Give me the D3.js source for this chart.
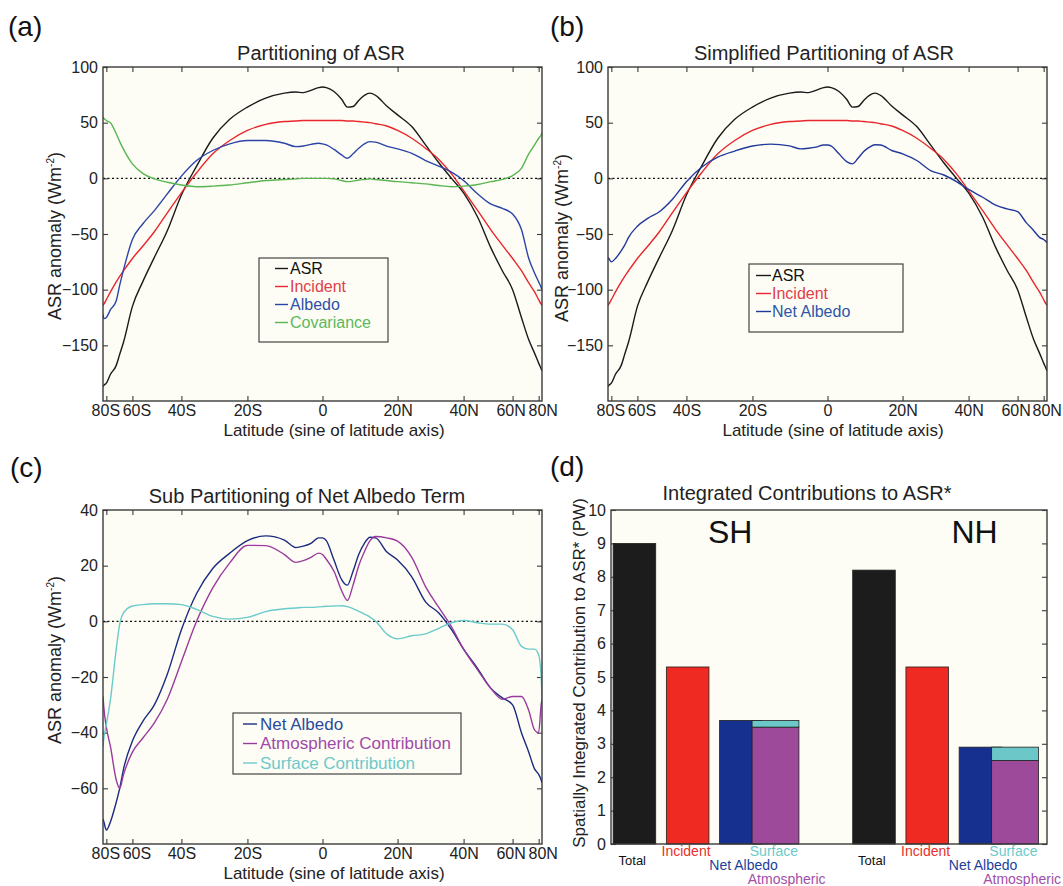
<!DOCTYPE html>
<html>
<head>
<meta charset="utf-8">
<script src="https://cdn.jsdelivr.net/npm/d3@7"></script>
<style>
  body { margin: 0; background: #fff; }
  svg { display: block; font-family: "Liberation Sans", Arial, sans-serif; }
</style>
</head>
<body>
<svg id="chart" width="1063" height="886"></svg>
<script>
// latitude grid (degrees) shared by every zonal-mean curve
const lat = [-90, -85, -80, -75, -70, -67.5, -65, -60, -55, -50,
  -45, -40, -35, -30, -25, -20, -15, -10, -7, -5,
  -3, -1, 0, 1, 3, 5, 6.5, 8, 9.5, 11,
  12.5, 14, 17, 20, 24, 28, 32, 36, 40, 45,
  50, 55, 60, 65, 70, 75, 80, 85, 90];

const asr = [-187, -186, -184, -176, -168, -158, -147, -115, -93, -71,
  -47, -15, 11, 36, 53, 64, 72, 76.5, 77.5, 77,
  79, 81.5, 82, 81.5, 78, 71, 64, 64.5, 70, 74.5,
  76.5, 74.5, 65, 57, 46.5, 30, 14, 0, -13, -35,
  -62, -83, -100, -125, -145, -157, -166, -171, -173];

const incident = [-114, -113, -109, -102, -93, -88, -83, -72, -61, -48,
  -31, -13, 5, 22, 34, 43, 48.5, 51, 51.5, 52,
  52, 52, 52, 52, 52, 52, 51.5, 51.5, 51, 50.5,
  50, 49, 47, 43, 36, 27, 17, 4, -11, -29,
  -46, -60, -72, -83, -94, -102, -109, -113, -114];

const albedo = [-122, -126, -125, -118, -110, -96, -82, -55, -41, -29,
  -14, 2, 16, 25, 31, 34, 34, 31.5, 28.5, 29,
  30.5, 31.5, 31, 30, 26, 21, 18, 22, 27, 31,
  33, 32.5, 29, 26.5, 22.5, 16, 11, 5.5, -2, -14,
  -23, -27, -32, -46, -72, -85, -93, -98, -100];

const covariance = [55, 54, 52, 50, 40, 33, 26, 13, 4.5, -0.5,
  -3.5, -6, -7.5, -7, -6, -4, -2, -1, -0.5, 0,
  0, 0, 0, 0, -0.5, -2, -3, -2.5, -1.5, -1,
  -0.5, -1, -2, -3, -4, -5, -6.5, -7.5, -7, -5.5,
  -3, -1, 2.5, 9, 22, 30, 36, 39, 41];

const netAlbedo = [-71, -72, -75, -72, -65, -60, -53, -43, -36, -30,
  -19, -3, 10, 19, 24.5, 29, 30.7, 29.2, 26.5, 27,
  28, 30, 30, 29, 22, 15, 13, 18, 24, 28,
  30.2, 30, 25, 22, 16, 7, 3, -3, -10, -17,
  -24, -27.5, -30, -40, -47, -53, -55, -57, -58];

const atmospheric = [-27, -31, -38, -45, -57, -60, -55, -47, -42, -36.5,
  -28, -14.5, 0, 12, 21, 27.3, 27.2, 24, 21.2, 21.8,
  23, 24.5, 24, 22.3, 18, 11, 7.5, 13, 20, 25,
  29, 30.5, 30, 28.8, 23, 12.5, 5, -2, -10, -17.5,
  -24, -28, -27, -27, -32, -39, -40, -30, -28];

const surface = [-45, -42, -37, -28, -10, -1, 3, 5.5, 6, 6.3,
  6.3, 6, 4.3, 1.8, 0.8, 1.4, 3.5, 4.5, 4.8, 5,
  5, 5.2, 5.3, 5.4, 5.5, 5.6, 5.3, 4.6, 3.6, 2.6,
  1.5, 0, -4.5, -6.3, -5.2, -4.5, -2.5, -0.5, 0.3, -0.5,
  -1, -1, -3, -9, -10, -10, -12, -20, -28];

const latTicks = [-80, -60, -40, -20, 0, 20, 40, 60, 80];
const latTickLabels = ["80S", "60S", "40S", "20S", "0", "20N", "40N", "60N", "80N"];

// panel (d): integrated contributions (PW)
const hemispheres = ["SH", "NH"];
const totalPW = [9.0, 8.2];
const incidentPW = [5.3, 5.3];
const netAlbedoPW = [3.7, 2.9];
const atmosphericPW = [3.5, 2.5];
const surfacePW = [0.2, 0.4];

const col = {
  asr: "#1a1a1a", incident: "#e8262b", albedo: "#2a44a8", cov: "#5ab552",
  net: "#22389c", netC: "#1c2a80", atm: "#9a3a9e", surf: "#6bcaca",
  barTotal: "#1c1c1c", barInc: "#ee2a22", barNet: "#163090", barAtm: "#9e4a9a", barSurf: "#6cc8c8"
};
const plotBg = "#fdfdf5";
const frameCol = "#3a3a3a";
const textCol = "#222";

const svg = d3.select("#chart");
const rad = d => Math.sin(d * Math.PI / 180);

function drawFrame(g, p, x, y, xAxis, yTicks) {
  g.append("rect")
    .attr("x", p.l).attr("y", p.t)
    .attr("width", p.r - p.l).attr("height", p.b - p.t)
    .attr("fill", plotBg);

  const yAx = d3.axisLeft(y).tickValues(yTicks).tickSizeInner(-5).tickSizeOuter(0).tickPadding(5);
  g.append("g").attr("transform", `translate(${p.l},0)`).call(yAx);
  g.append("g").attr("transform", `translate(${p.r},0)`)
    .call(d3.axisRight(y).tickValues(yTicks).tickSizeInner(-5).tickSizeOuter(0).tickFormat(""));
  if (xAxis) {
    g.append("g").attr("class", "xax").attr("transform", `translate(0,${p.b})`).call(xAxis);
    g.append("g").attr("transform", `translate(0,${p.t})`)
      .call(d3.axisTop(x).tickValues(latTicks.map(rad)).tickSizeInner(-5).tickSizeOuter(0).tickFormat(""));
  }
  g.selectAll(".domain").remove();
  g.selectAll(".tick line").attr("stroke", frameCol).attr("stroke-width", 1.1);
  g.selectAll(".tick text").attr("fill", textCol).style("font-size", "16px")
    .style("font-family", "'Liberation Sans', Arial, sans-serif");
}

function outline(g, p) {
  g.append("rect")
    .attr("x", p.l).attr("y", p.t)
    .attr("width", p.r - p.l).attr("height", p.b - p.t)
    .attr("fill", "none").attr("stroke", frameCol).attr("stroke-width", 1.4);
}

function yLabel(g, cx, cy, size) {
  const t = g.append("text")
    .attr("transform", `translate(${cx},${cy}) rotate(-90)`)
    .attr("text-anchor", "middle").attr("dy", "0.35em")
    .attr("fill", textCol).style("font-size", size + "px");
  t.append("tspan").text("ASR anomaly (Wm");
  t.append("tspan").attr("dy", -7).style("font-size", "10px").text("-2");
  t.append("tspan").attr("dy", 7).text(")");
}

function linePanel(p, cfg) {
  const g = svg.append("g");
  const x = d3.scaleLinear().domain([-1, 1]).range([p.l, p.r]);
  const y = d3.scaleLinear().domain(cfg.yDomain).range([p.b, p.t]);

  const xAxis = d3.axisBottom(x)
    .tickValues(latTicks.map(rad))
    .tickFormat((d, i) => latTickLabels[i])
    .tickSizeInner(-5).tickSizeOuter(0).tickPadding(4);
  drawFrame(g, p, x, y, xAxis, cfg.yTicks);
  // crowded polar labels sit a little apart, as in the original
  g.selectAll(".xax .tick text").attr("dx", (d, i) => cfg.labelShift[i] || 0);

  const clipId = "clip" + cfg.id;
  svg.append("clipPath").attr("id", clipId).append("rect")
    .attr("x", p.l).attr("y", p.t).attr("width", p.r - p.l).attr("height", p.b - p.t);

  // dotted zero line
  g.append("line")
    .attr("x1", p.l).attr("x2", p.r).attr("y1", y(0)).attr("y2", y(0))
    .attr("stroke", "#111").attr("stroke-width", 1.3).attr("stroke-dasharray", "2,2.5");

  const line = d3.line()
    .x((d, i) => x(rad(lat[i])))
    .y(d => y(d))
    .curve(d3.curveMonotoneX);

  cfg.series.forEach(s => {
    g.append("path")
      .datum(s.values)
      .attr("clip-path", `url(#${clipId})`)
      .attr("d", line)
      .attr("fill", "none").attr("stroke", s.color).attr("stroke-width", 1.4);
  });

  outline(g, p);

  // legend
  const L = cfg.legend;
  g.append("rect")
    .attr("x", L.x0).attr("y", L.y0).attr("width", L.x1 - L.x0).attr("height", L.y1 - L.y0)
    .attr("fill", plotBg).attr("stroke", "#444").attr("stroke-width", 1.2);
  cfg.series.forEach((s, i) => {
    const yy = L.rows[i];
    g.append("line").attr("x1", L.lx0).attr("x2", L.lx1).attr("y1", yy).attr("y2", yy)
      .attr("stroke", s.color).attr("stroke-width", 1.4);
    g.append("text").attr("x", L.tx).attr("y", yy).attr("dy", "0.35em")
      .attr("fill", s.text).style("font-size", L.size + "px").text(s.name);
  });

  // title, x label, y label, panel tag
  g.append("text").attr("x", cfg.titleX).attr("y", p.t - 7).attr("text-anchor", "middle")
    .attr("fill", textCol).style("font-size", "20px").text(cfg.title);
  g.append("text").attr("x", cfg.xLabelX).attr("y", p.b + 35).attr("text-anchor", "middle")
    .attr("fill", textCol).style("font-size", "17px").text("Latitude (sine of latitude axis)");
  yLabel(g, cfg.yLabelX, cfg.yLabelY, 18);
  g.append("text").attr("x", cfg.tagX).attr("y", cfg.tagY)
    .attr("fill", "#111").style("font-size", "28px").text(cfg.tag);
}

linePanel({ l: 103, r: 542, t: 67, b: 401 }, {
  id: "a", tag: "(a)", tagX: 8, tagY: 36,
  title: "Partitioning of ASR", titleX: 321, xLabelX: 334,
  yLabelX: 55, yLabelY: 236,
  labelShift: [-1, 4, 0, 0, 0, 0, 0, -2, 4],
  yDomain: [-200, 100], yTicks: [-150, -100, -50, 0, 50, 100],
  series: [
    { name: "ASR", values: asr, color: col.asr, text: "#111" },
    { name: "Incident", values: incident, color: col.incident, text: "#e0404a" },
    { name: "Albedo", values: albedo, color: col.albedo, text: "#2d4fa8" },
    { name: "Covariance", values: covariance, color: col.cov, text: "#5cb85c" }
  ],
  legend: { x0: 259, x1: 388, y0: 258, y1: 342, rows: [268.5, 286.5, 304.5, 322.5],
    lx0: 275, lx1: 288, tx: 290, size: 16 }
});

linePanel({ l: 608, r: 1047, t: 67, b: 401 }, {
  id: "b", tag: "(b)", tagX: 550, tagY: 36,
  title: "Simplified Partitioning of ASR", titleX: 824, xLabelX: 833,
  yLabelX: 562, yLabelY: 238,
  labelShift: [-1, 4, 0, 0, 0, 0, 0, -2, 3],
  yDomain: [-200, 100], yTicks: [-150, -100, -50, 0, 50, 100],
  series: [
    { name: "ASR", values: asr, color: col.asr, text: "#111" },
    { name: "Incident", values: incident, color: col.incident, text: "#e0404a" },
    { name: "Net Albedo", values: netAlbedo, color: col.net, text: "#2d55a8" }
  ],
  legend: { x0: 749, x1: 903, y0: 264, y1: 332, rows: [275.5, 293.5, 311.5],
    lx0: 756, lx1: 771, tx: 772, size: 16 }
});

linePanel({ l: 103, r: 542, t: 510, b: 844 }, {
  id: "c", tag: "(c)", tagX: 10, tagY: 477,
  title: "Sub Partitioning of Net Albedo Term", titleX: 307, xLabelX: 334,
  yLabelX: 55, yLabelY: 660,
  labelShift: [-1, 4, 0, 0, 0, 0, 0, -2, 4],
  yDomain: [-80, 40], yTicks: [-60, -40, -20, 0, 20, 40],
  series: [
    { name: "Net Albedo", values: netAlbedo, color: col.netC, text: "#2a4a9e" },
    { name: "Atmospheric Contribution", values: atmospheric, color: col.atm, text: "#a04aa8" },
    { name: "Surface Contribution", values: surface, color: col.surf, text: "#6ccaca" }
  ],
  legend: { x0: 233, x1: 461, y0: 713, y1: 774, rows: [724, 743.5, 763],
    lx0: 243, lx1: 257, tx: 260, size: 17 }
});

// ---- panel (d): bars ----
(function () {
  const p = { l: 611, r: 1047, t: 510, b: 844 };
  const g = svg.append("g");
  const x = d3.scaleLinear().domain([0.56, 8.75]).range([p.l, p.r]);
  const y = d3.scaleLinear().domain([0, 10]).range([p.b, p.t]);
  drawFrame(g, p, x, y, null, d3.range(0, 11));

  const groupShift = [0, 4.5];
  const bw = 0.8, sw = 0.88;
  const bar = (cx, w, v0, v1, fill) => g.append("rect")
    .attr("x", x(cx - w / 2)).attr("width", x(cx + w / 2) - x(cx - w / 2))
    .attr("y", y(v1)).attr("height", y(v0) - y(v1))
    .attr("fill", fill).attr("stroke", "#202020").attr("stroke-width", 0.8);

  const lab = (cx, yy, txt, fill, size, anchor) => g.append("text")
    .attr("x", x(cx)).attr("y", yy).attr("text-anchor", anchor || "middle")
    .attr("fill", fill).style("font-size", size + "px").text(txt);

  hemispheres.forEach((h, i) => {
    const o = groupShift[i];
    bar(1 + o, bw, 0, totalPW[i], col.barTotal);
    bar(2 + o, bw, 0, incidentPW[i], col.barInc);
    bar(3 + o, bw, 0, netAlbedoPW[i], col.barNet);
    bar(3.65 + o, sw, 0, atmosphericPW[i], col.barAtm);
    bar(3.65 + o, sw, atmosphericPW[i], atmosphericPW[i] + surfacePW[i], col.barSurf);

    lab(0.96 + o, 865, "Total", "#111", 13);
    lab(1.97 + o, 856, "Incident", "#e8302a", 14);
    lab(3.62 + o, 856, "Surface", "#6ccaca", 14);
    lab(3.05 + o, 870, "Net Albedo", "#1c3f9c", 14);

    g.append("text").attr("x", x([2.8, 7.39][i])).attr("y", 543).attr("text-anchor", "middle")
      .attr("fill", "#111").style("font-size", "32px").text(h);
  });
  // last label runs into the page edge in the original; keep it just inside
  lab(3.86, 883.5, "Atmospheric", "#a050a8", 14);
  g.append("text").attr("x", 1061).attr("y", 883.5).attr("text-anchor", "end")
    .attr("fill", "#a050a8").style("font-size", "14px").text("Atmospheric");

  outline(g, p);

  g.append("text").attr("x", 807).attr("y", 500).attr("text-anchor", "middle")
    .attr("fill", textCol).style("font-size", "20px").text("Integrated Contributions to ASR*");
  g.append("text")
    .attr("transform", `translate(579,673) rotate(-90)`)
    .attr("text-anchor", "middle").attr("dy", "0.35em")
    .attr("fill", textCol).style("font-size", "17px")
    .text("Spatially Integrated Contribution to ASR* (PW)");
  g.append("text").attr("x", 550).attr("y", 476)
    .attr("fill", "#111").style("font-size", "28px").text("(d)");
})();
</script>
</body>
</html>
